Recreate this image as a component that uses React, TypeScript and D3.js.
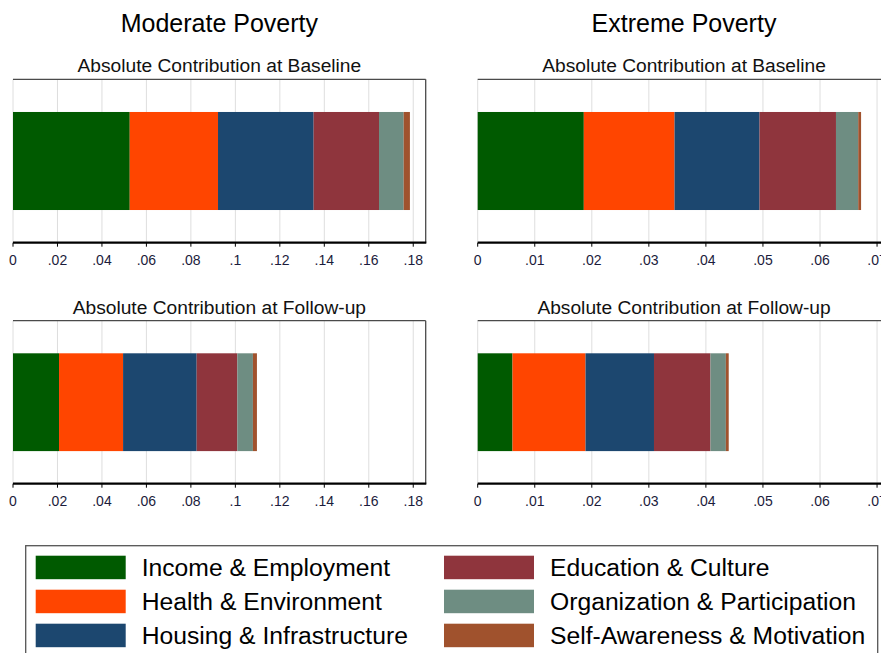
import React from "react";
import * as d3 from "d3";

const categories = [
  "Income & Employment",
  "Health & Environment",
  "Housing & Infrastructure",
  "Education & Culture",
  "Organization & Participation",
  "Self-Awareness & Motivation",
];
const colors = ["#005a00", "#ff4500", "#1c476f", "#8f353d", "#6e8d82", "#a0522d"];

const moderateBaseline = [0.0525, 0.0397, 0.043, 0.0294, 0.0111, 0.0028];
const moderateFollowup = [0.0207, 0.0288, 0.0331, 0.0183, 0.007, 0.0018];
const extremeBaseline = [0.0186, 0.0159, 0.0149, 0.0134, 0.0039, 0.0005];
const extremeFollowup = [0.0061, 0.0128, 0.012, 0.0099, 0.0027, 0.0005];

const moderateTicks = [0, 0.02, 0.04, 0.06, 0.08, 0.1, 0.12, 0.14, 0.16, 0.18];
const extremeTicks = [0, 0.01, 0.02, 0.03, 0.04, 0.05, 0.06, 0.07];

const mainTitles = ["Moderate Poverty", "Extreme Poverty"];
const subTitles = ["Absolute Contribution at Baseline", "Absolute Contribution at Follow-up"];

const FONT = "'Liberation Sans', Arial, Helvetica, sans-serif";

const fmt = (v: number) => {
  if (v === 0) return "0";
  const s = d3.format("~g")(v);
  return s.replace(/^0\./, ".");
};

type PanelProps = {
  values: number[];
  ticks: number[];
  xMax: number;
  x0: number;
  x1: number;
  top: number;
  bottom: number;
  subtitle: string;
};

function Panel({ values, ticks, xMax, x0, x1, top, bottom, subtitle }: PanelProps) {
  const x = d3.scaleLinear().domain([0, xMax]).range([x0, x1]);
  const y = d3
    .scaleBand<string>()
    .domain(["bar"])
    .range([top, bottom])
    .paddingInner(0.25)
    .paddingOuter(0.25);
  const stackData = [Object.fromEntries(values.map((v, i) => [String(i), v]))];
  const series = d3.stack<any>().keys(values.map((_, i) => String(i)))(stackData as any);
  const by = y("bar")!;
  const bh = y.bandwidth();
  const cx = (x0 + x1) / 2;
  return (
    <g>
      <text x={cx} y={top - 7} textAnchor="middle" fontSize={19.2} fontFamily={FONT} fill="#111">
        {subtitle}
      </text>
      {ticks.map((t) => (
        <line key={"g" + t} x1={x(t)} x2={x(t)} y1={top} y2={bottom} stroke="#dedede" strokeWidth={1} />
      ))}
      {series.map((s, i) => (
        <rect
          key={i}
          x={x(s[0][0])}
          width={x(s[0][1]) - x(s[0][0])}
          y={by}
          height={bh}
          fill={colors[i]}
        />
      ))}
      <line x1={x0} x2={x1} y1={top} y2={top} stroke="#4a4a4a" strokeWidth={1.3} />
      <line x1={x1} x2={x1} y1={top} y2={bottom} stroke="#4a4a4a" strokeWidth={1.3} />
      <line x1={x0} x2={x1 + 0.6} y1={bottom} y2={bottom} stroke="#000" strokeWidth={2.2} />
      {ticks.map((t) => (
        <g key={"t" + t}>
          <line x1={x(t)} x2={x(t)} y1={bottom} y2={bottom + 4} stroke="#000" strokeWidth={1} />
          <text
            x={x(t)}
            y={bottom + 22.3}
            textAnchor="middle"
            fontSize={14}
            fontFamily={FONT}
            fill="#1c1c3c"
          >
            {fmt(t)}
          </text>
        </g>
      ))}
    </g>
  );
}

export default function App() {
  const leftX0 = 13;
  const leftX1 = 425.7;
  const rightX0 = 477.7;
  const rightX1 = 890.4;
  const topRow = [79.3, 242.7];
  const botRow = [320.7, 483.7];

  const legendRows = [0, 1, 2];
  const legendCols = [
    { sx: 35.7, tx: 141.7 },
    { sx: 444, tx: 550 },
  ];
  const rowY = [555.7, 589.7, 623.7];

  return (
    <div style={{ position: "absolute", left: 0, top: 0 }}>
      <svg width={881} height={653} style={{ display: "block", background: "#fff" }}>
        <rect x={0} y={0} width={881} height={653} fill="#fff" />
        <text x={219.4} y={31.7} textAnchor="middle" fontSize={25} fontFamily={FONT} fill="#000">
          {mainTitles[0]}
        </text>
        <text x={684} y={31.7} textAnchor="middle" fontSize={25} fontFamily={FONT} fill="#000">
          {mainTitles[1]}
        </text>
        <Panel
          values={moderateBaseline}
          ticks={moderateTicks}
          xMax={0.1856}
          x0={leftX0}
          x1={leftX1}
          top={topRow[0]}
          bottom={topRow[1]}
          subtitle={subTitles[0]}
        />
        <Panel
          values={extremeBaseline}
          ticks={extremeTicks}
          xMax={0.07234}
          x0={rightX0}
          x1={rightX1}
          top={topRow[0]}
          bottom={topRow[1]}
          subtitle={subTitles[0]}
        />
        <Panel
          values={moderateFollowup}
          ticks={moderateTicks}
          xMax={0.1856}
          x0={leftX0}
          x1={leftX1}
          top={botRow[0]}
          bottom={botRow[1]}
          subtitle={subTitles[1]}
        />
        <Panel
          values={extremeFollowup}
          ticks={extremeTicks}
          xMax={0.07234}
          x0={rightX0}
          x1={rightX1}
          top={botRow[0]}
          bottom={botRow[1]}
          subtitle={subTitles[1]}
        />
        <rect
          x={25.7}
          y={545.7}
          width={852}
          height={120}
          fill="#fff"
          stroke="#555"
          strokeWidth={1.3}
        />
        {categories.map((c, i) => {
          const col = legendCols[Math.floor(i / 3)];
          const r = legendRows[i % 3];
          const yy = rowY[r];
          return (
            <g key={c}>
              <rect x={col.sx} y={yy} width={90} height={23.5} fill={colors[i]} />
              <text
                x={col.tx}
                y={yy + 20.5}
                fontSize={24.7}
                fontFamily={FONT}
                fill="#000"
              >
                {c}
              </text>
            </g>
          );
        })}
      </svg>
    </div>
  );
}
